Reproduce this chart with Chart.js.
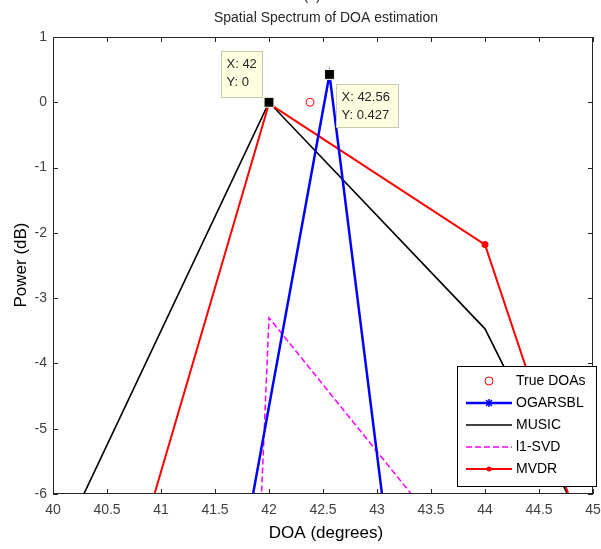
<!DOCTYPE html>
<html>
<head>
<meta charset="utf-8">
<script src="https://cdn.jsdelivr.net/npm/chart.js@4/dist/chart.umd.min.js"></script>
<style>
  html, body { margin: 0; padding: 0; background: #fff; }
  #wrap { width: 601px; height: 549px; }
</style>
</head>
<body>
<div id="wrap"><canvas id="doaChart" width="601" height="549"></canvas></div>
<script>
// tick values
const xTicks = [40, 40.5, 41, 41.5, 42, 42.5, 43, 43.5, 44, 44.5, 45];
const yTicks = [1, 0, -1, -2, -3, -4, -5, -6];

// spectra (DOA in degrees, power in dB)
const trueDoa = [42.38];
const truePower = [0];

const ogarsblDoa = [41.5, 42.56, 43.5];
const ogarsblPower = [-9.2, 0.427, -12.0];

const musicDoa = [40, 42, 44, 46];
const musicPower = [-7.0, 0, -3.47, -10.1];

const l1svdDoa = [41.9, 42.0, 44];
const l1svdPower = [-7.2, -3.3, -7.4];

const mvdrDoa = [40, 42, 44, 46];
const mvdrPower = [-11.3, -0.02, -2.18, -12.1];

// data tips
const tipDoa = [42, 42.56];
const tipPower = [0, 0.427];

const FONT = '"Liberation Sans", Arial, sans-serif';

const pts = (xs, ys) => xs.map((x, i) => ({x, y: ys[i]}));

const legendItems = [
  {label: 'True DOAs', color: '#ff0000', kind: 'circle'},
  {label: 'OGARSBL', color: '#0000ff', kind: 'star', width: 2.5},
  {label: 'MUSIC', color: '#000000', kind: 'line', width: 1.5},
  {label: 'l1-SVD', color: '#ff00ff', kind: 'dash', width: 1.5},
  {label: 'MVDR', color: '#ff0000', kind: 'dot', width: 2}
];

const matlabLook = {
  id: 'matlabLook',
  afterDatasetsDraw(chart) {
    const {ctx, chartArea: a, scales: {x, y}} = chart;
    ctx.save();
    // box and inner ticks
    ctx.strokeStyle = '#262626';
    ctx.lineWidth = 1;
    ctx.strokeRect(a.left + 0.5, a.top + 0.5, a.right - a.left - 1, a.bottom - a.top - 1);
    ctx.beginPath();
    xTicks.forEach(v => {
      const px = Math.round(x.getPixelForValue(v)) + 0.5;
      ctx.moveTo(px, a.bottom); ctx.lineTo(px, a.bottom - 5);
      ctx.moveTo(px, a.top); ctx.lineTo(px, a.top + 5);
    });
    yTicks.forEach(v => {
      const py = Math.round(y.getPixelForValue(v)) + 0.5;
      ctx.moveTo(a.left, py); ctx.lineTo(a.left + 5, py);
      ctx.moveTo(a.right, py); ctx.lineTo(a.right - 5, py);
    });
    ctx.stroke();

    // data tips
    const tips = [
      {i: 0, dx: -48, dy: -51, w: 41, h: 46},
      {i: 1, dx: 7, dy: 10, w: 62, h: 43}
    ];
    tips.forEach(t => {
      const px = x.getPixelForValue(tipDoa[t.i]);
      const py = y.getPixelForValue(tipPower[t.i]);
      const bx = Math.round(px + t.dx) + 0.5, by = Math.round(py + t.dy) + 0.5;
      ctx.fillStyle = '#ffffe1';
      ctx.strokeStyle = '#c8c8b4';
      ctx.fillRect(bx, by, t.w, t.h);
      ctx.strokeRect(bx, by, t.w, t.h);
      ctx.fillStyle = '#262626';
      ctx.font = '13px ' + FONT;
      ctx.textAlign = 'left';
      ctx.textBaseline = 'middle';
      ctx.fillText('X: ' + tipDoa[t.i], bx + 5, by + 13);
      ctx.fillText('Y: ' + tipPower[t.i], bx + 5, by + 31);
    });

    // legend
    const lx = 457, ly = 366, lw = 139, lh = 120;
    ctx.fillStyle = '#fff';
    ctx.fillRect(lx, ly, lw, lh);
    ctx.strokeStyle = '#000';
    ctx.lineWidth = 1;
    ctx.strokeRect(lx + 0.5, ly + 0.5, lw, lh);
    ctx.font = '14px ' + FONT;
    ctx.textBaseline = 'middle';
    legendItems.forEach((it, k) => {
      const yy = 381 + k * 22;
      const x0 = 466, x1 = 512, xm = (x0 + x1) / 2;
      ctx.strokeStyle = it.color;
      ctx.fillStyle = it.color;
      if (it.kind === 'circle') {
        ctx.lineWidth = 1;
        ctx.beginPath(); ctx.arc(xm, yy, 4, 0, Math.PI * 2); ctx.stroke();
      } else {
        ctx.lineWidth = it.width;
        ctx.setLineDash(it.kind === 'dash' ? [6, 3] : []);
        ctx.beginPath(); ctx.moveTo(x0, yy); ctx.lineTo(x1, yy); ctx.stroke();
        ctx.setLineDash([]);
        if (it.kind === 'star') {
          ctx.lineWidth = 1.5;
          ctx.beginPath();
          ctx.moveTo(xm, yy - 4); ctx.lineTo(xm, yy + 4);
          ctx.moveTo(xm - 3, yy - 3); ctx.lineTo(xm + 3, yy + 3);
          ctx.moveTo(xm + 3, yy - 3); ctx.lineTo(xm - 3, yy + 3);
          ctx.stroke();
        }
        if (it.kind === 'dot') {
          ctx.beginPath(); ctx.arc(xm, yy, 2.5, 0, Math.PI * 2); ctx.fill();
        }
      }
      ctx.fillStyle = '#000';
      ctx.fillText(it.label, 516, yy);
    });

    // titles
    ctx.fillStyle = '#262626';
    ctx.textAlign = 'center';
    ctx.font = '14px ' + FONT;
    ctx.textBaseline = 'bottom';
    ctx.fillText('(a)', 312, 3);
    ctx.textBaseline = 'middle';
    ctx.fillText('Spatial Spectrum of DOA estimation', 326, 18);
    ctx.font = '17px ' + FONT;
    ctx.fillStyle = '#000';
    ctx.fillText('DOA (degrees)', 326, 533);
    ctx.translate(21, 265);
    ctx.rotate(-Math.PI / 2);
    ctx.fillText('Power (dB)', 0, 0);
    ctx.restore();
  }
};

new Chart(document.getElementById('doaChart'), {
  type: 'scatter',
  data: {
    datasets: [
      {label: 'peaks', data: pts(tipDoa, tipPower), pointStyle: 'rect', pointRadius: 7,
       backgroundColor: '#000', borderColor: '#ffffe1', borderWidth: 1, showLine: false, order: 0},
      {label: 'True DOAs', data: pts(trueDoa, truePower), pointStyle: 'circle', pointRadius: 4,
       backgroundColor: 'rgba(0,0,0,0)', borderColor: '#ff0000', borderWidth: 1, showLine: false, order: 1},
      {label: 'OGARSBL', data: pts(ogarsblDoa, ogarsblPower), showLine: true, borderColor: '#0000ff',
       borderWidth: 2.5, pointRadius: 0, order: 2},
      {label: 'MUSIC', data: pts(musicDoa, musicPower), showLine: true, borderColor: '#000000',
       borderWidth: 1.6, pointRadius: 0, order: 5},
      {label: 'l1-SVD', data: pts(l1svdDoa, l1svdPower), showLine: true, borderColor: '#ff00ff',
       borderWidth: 1.5, borderDash: [6, 3], pointRadius: 0, order: 3},
      {label: 'MVDR', data: pts(mvdrDoa, mvdrPower), showLine: true, borderColor: '#ff0000',
       backgroundColor: '#ff0000', borderWidth: 2, pointRadius: 2.5, order: 4}
    ]
  },
  options: {
    responsive: false,
    animation: false,
    events: [],
    layout: {padding: {top: 37, right: 5, left: 0, bottom: 0}},
    plugins: {legend: {display: false}, tooltip: {enabled: false}, title: {display: false}},
    scales: {
      x: {
        type: 'linear', min: 40, max: 45,
        afterBuildTicks: s => { s.ticks = xTicks.map(v => ({value: v})); },
        afterFit: s => { s.height = 55; s.paddingLeft = 0; s.paddingRight = 0; },
        grid: {display: false, drawTicks: false},
        border: {display: false},
        ticks: {callback: v => String(v), padding: 8, color: '#404040', font: {family: FONT, size: 14}, maxRotation: 0}
      },
      y: {
        type: 'linear', min: -6, max: 1,
        afterBuildTicks: s => { s.ticks = yTicks.map(v => ({value: v})); },
        afterFit: s => { s.width = 53; s.paddingTop = 0; s.paddingBottom = 0; },
        grid: {display: false, drawTicks: false},
        border: {display: false},
        ticks: {callback: v => String(v), padding: 6, color: '#404040', font: {family: FONT, size: 14}}
      }
    }
  },
  plugins: [matlabLook]
});
</script>
</body>
</html>
